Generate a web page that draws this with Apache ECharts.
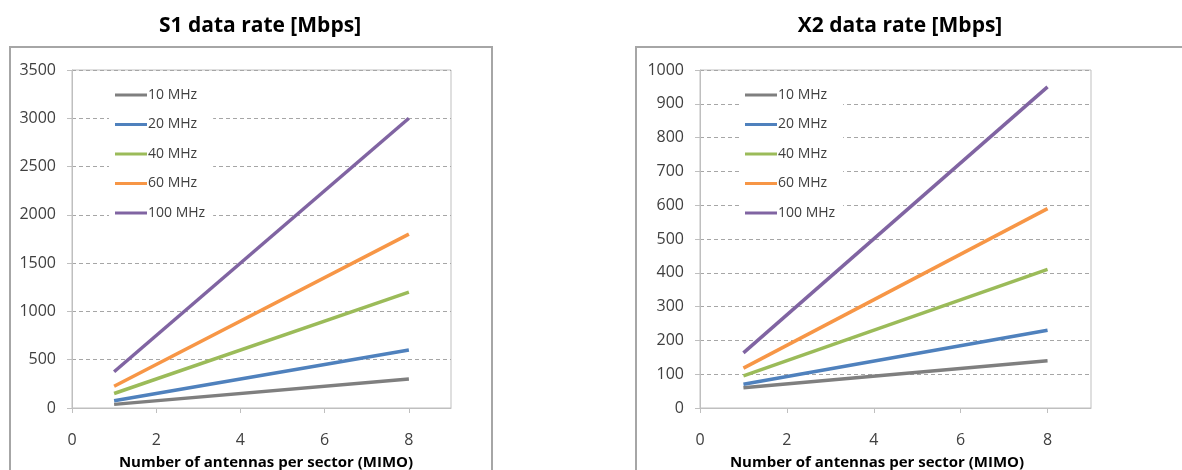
<!DOCTYPE html>
<html>
<head>
<meta charset="utf-8">
<script src="https://cdn.jsdelivr.net/npm/echarts@6/dist/echarts.min.js"></script>
<style>
html,body{margin:0;padding:0;background:#fff;}
#c{width:1182px;height:470px;}
</style>
</head>
<body>
<div id="c"></div>
<script>
// ---- data ----
const seriesNames = ['10 MHz', '20 MHz', '40 MHz', '60 MHz', '100 MHz'];
const antennas = [1, 8];
const s1Values = [
  [37.5, 300],
  [75, 600],
  [150, 1200],
  [225, 1800],
  [375, 3000]
];
const x2Values = [
  [60, 140],
  [70, 230],
  [95, 410],
  [118, 590],
  [163, 950]
];
const xTicks = [0, 2, 4, 6, 8];
const titles = ['S1 data rate [Mbps]', 'X2 data rate [Mbps]'];
const xAxisTitle = 'Number of antennas per sector (MIMO)';
const colors = ['#7f7f7f', '#4f81bd', '#9bbb59', '#f79646', '#8064a2'];

const FONT = '"Open Sans", "Noto Sans", sans-serif';
const chart = echarts.init(document.getElementById('c'), null, {renderer: 'canvas'});

function mkX(gi) {
  return {
    type: 'value', gridIndex: gi, min: 0, max: 9, interval: 2,
    axisLine: {show: true, onZero: false, lineStyle: {color: '#bfbfbf', width: 1}},
    axisTick: {show: true, inside: false, length: 5, customValues: xTicks, lineStyle: {color: '#bfbfbf'}},
    axisLabel: {customValues: xTicks, margin: 24, fontSize: 16, color: '#404040', fontFamily: FONT},
    splitLine: {show: false}
  };
}
function mkY(gi, max, interval) {
  return {
    type: 'value', gridIndex: gi, min: 0, max: max, interval: interval,
    axisLine: {show: true, lineStyle: {color: '#bfbfbf', width: 1}},
    axisTick: {show: true, inside: false, length: 5, lineStyle: {color: '#bfbfbf'}},
    axisLabel: {margin: 16, fontSize: 16, color: '#404040', fontFamily: FONT, formatter: v => String(v)},
    splitLine: {show: true, lineStyle: {color: '#a6a6a6', type: [4, 3], width: 1}}
  };
}

const series = [];
seriesNames.forEach((n, i) => {
  series.push({
    name: n, type: 'line', xAxisIndex: 0, yAxisIndex: 0,
    data: antennas.map((a, k) => [a, s1Values[i][k]]),
    symbol: 'none', color: colors[i], lineStyle: {width: 3.5, color: colors[i]}, z: 3
  });
  series.push({
    name: n, type: 'line', xAxisIndex: 1, yAxisIndex: 1,
    data: antennas.map((a, k) => [a, x2Values[i][k]]),
    symbol: 'none', color: colors[i], lineStyle: {width: 3.5, color: colors[i]}, z: 3
  });
});

function mkLegend(left) {
  return {
    show: true, orient: 'vertical', left: left, top: 82,
    data: seriesNames, icon: 'rect', itemWidth: 32, itemHeight: 3, itemGap: 15.5,
    padding: [6, 8, 6, 6], backgroundColor: '#fff',
    textStyle: {fontSize: 14, color: '#404040', fontFamily: FONT, padding: [0, 0, 0, -4]},
    selectedMode: false, z: 5
  };
}

chart.setOption({
  animation: false,
  backgroundColor: '#fff',
  title: [
    {text: titles[0], left: 255, top: 11, textAlign: 'center',
     textStyle: {fontSize: 21, fontWeight: 'bold', color: '#000', fontFamily: FONT}},
    {text: titles[1], left: 895, top: 11, textAlign: 'center',
     textStyle: {fontSize: 21, fontWeight: 'bold', color: '#000', fontFamily: FONT}},
    {text: xAxisTitle, left: 261, top: 450, textAlign: 'center',
     textStyle: {fontSize: 15, fontWeight: 'bold', color: '#000', fontFamily: FONT}},
    {text: xAxisTitle, left: 872, top: 450, textAlign: 'center',
     textStyle: {fontSize: 15, fontWeight: 'bold', color: '#000', fontFamily: FONT}}
  ],
  legend: [mkLegend(109), mkLegend(739)],
  grid: [
    {left: 72, top: 70, width: 379, height: 338, show: true, borderColor: '#bfbfbf', borderWidth: 1, backgroundColor: 'transparent'},
    {left: 700, top: 70, width: 391, height: 338, show: true, borderColor: '#bfbfbf', borderWidth: 1, backgroundColor: 'transparent'}
  ],
  xAxis: [mkX(0), mkX(1)],
  yAxis: [mkY(0, 3500, 500), mkY(1, 1000, 100)],
  series: series,
  graphic: [
    {type: 'rect', shape: {x: 10, y: 47, width: 482, height: 440}, style: {fill: 'none', stroke: '#a6a6a6', lineWidth: 2}, silent: true},
    {type: 'rect', shape: {x: 636, y: 47, width: 560, height: 440}, style: {fill: 'none', stroke: '#a6a6a6', lineWidth: 2}, silent: true}
  ]
});
</script>
</body>
</html>
